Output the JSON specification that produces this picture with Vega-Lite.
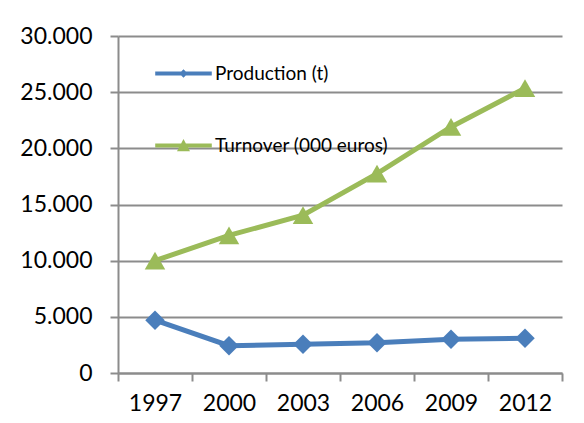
{
  "$schema": "https://vega.github.io/schema/vega-lite/v6.json",
  "width": 444,
  "height": 337,
  "autosize": {"type": "none"},
  "padding": {"left": 118, "top": 36, "right": 22, "bottom": 50},
  "background": "white",
  "config": {
    "view": {"stroke": null},
    "font": "Lato",
    "axis": {"labelFont": "Lato", "labelColor": "#000000"},
    "legend": {"labelFont": "Lato"}
  },
  "data": {
    "values": [
      {"year": "1997", "series": "Production (t)", "value": 4700},
      {"year": "2000", "series": "Production (t)", "value": 2430},
      {"year": "2003", "series": "Production (t)", "value": 2550},
      {"year": "2006", "series": "Production (t)", "value": 2700},
      {"year": "2009", "series": "Production (t)", "value": 3000},
      {"year": "2012", "series": "Production (t)", "value": 3090},
      {"year": "1997", "series": "Turnover (000 euros)", "value": 10000},
      {"year": "2000", "series": "Turnover (000 euros)", "value": 12250},
      {"year": "2003", "series": "Turnover (000 euros)", "value": 14050},
      {"year": "2006", "series": "Turnover (000 euros)", "value": 17750},
      {"year": "2009", "series": "Turnover (000 euros)", "value": 21900},
      {"year": "2012", "series": "Turnover (000 euros)", "value": 25350}
    ]
  },
  "encoding": {
    "x": {
      "field": "year",
      "type": "ordinal",
      "bandPosition": 0.5,
      "scale": {"type": "band", "paddingInner": 0, "paddingOuter": 0},
      "axis": {
        "title": null,
        "labelAngle": 0,
        "labelFontSize": 23,
        "labelPadding": 11,
        "tickBand": "extent",
        "tickSize": 8,
        "tickColor": "#8c8c8c",
        "tickWidth": 2,
        "domainColor": "#8c8c8c",
        "domainWidth": 2,
        "grid": false
      }
    },
    "y": {
      "field": "value",
      "type": "quantitative",
      "scale": {"domain": [0, 30000], "nice": false},
      "axis": {
        "title": null,
        "values": [0, 5000, 10000, 15000, 20000, 25000, 30000],
        "labelExpr": "replace(format(datum.value, ','), ',', '.')",
        "labelFontSize": 23,
        "labelPadding": 18,
        "tickSize": 8,
        "tickColor": "#8c8c8c",
        "tickWidth": 2,
        "domainColor": "#8c8c8c",
        "domainWidth": 2,
        "grid": true,
        "gridColor": "#8c8c8c",
        "gridWidth": 2
      }
    }
  },
  "layer": [
    {
      "transform": [{"filter": "datum.series === 'Production (t)'"}],
      "mark": {"type": "line", "color": "#4A7EBB", "strokeWidth": 5}
    },
    {
      "transform": [{"filter": "datum.series === 'Turnover (000 euros)'"}],
      "mark": {"type": "line", "color": "#9BBB59", "strokeWidth": 5}
    },
    {
      "transform": [{"filter": "datum.series === 'Production (t)'"}],
      "mark": {"type": "point", "shape": "diamond", "filled": true, "opacity": 1, "color": "#4A7EBB", "size": 380}
    },
    {
      "transform": [{"filter": "datum.series === 'Turnover (000 euros)'"}],
      "mark": {"type": "point", "shape": "triangle-up", "filled": true, "opacity": 1, "color": "#9BBB59", "size": 420}
    },
    {
      "mark": {"type": "point", "filled": true, "opacity": 0},
      "encoding": {
        "color": {
          "field": "series",
          "type": "nominal",
          "scale": {"domain": ["Production (t)", "Turnover (000 euros)"], "range": ["#4A7EBB", "#9BBB59"]},
          "legend": {
            "title": null,
            "orient": "none",
            "legendX": 37,
            "legendY": 9,
            "padding": 0,
            "rowPadding": 33,
            "symbolSize": 3200,
            "symbolOpacity": 1,
            "symbolStrokeWidth": 0,
            "labelFontSize": 19,
            "labelColor": "#000000",
            "labelOffset": 3,
            "labelLimit": 400
          }
        },
        "shape": {
          "field": "series",
          "type": "nominal",
          "scale": {
            "domain": ["Production (t)", "Turnover (000 euros)"],
            "range": [
              "M-1,-0.075H1V0.075H-1Z M0,-0.15L0.15,0L0,0.15L-0.15,0Z",
              "M-1,-0.075H1V0.075H-1Z M0,-0.23L0.23,0.2L-0.23,0.2Z"
            ]
          },
          "legend": {
            "title": null,
            "orient": "none",
            "legendX": 37,
            "legendY": 9,
            "padding": 0,
            "rowPadding": 33,
            "symbolSize": 3200,
            "symbolOpacity": 1,
            "symbolStrokeWidth": 0,
            "labelFontSize": 19,
            "labelColor": "#000000",
            "labelOffset": 3,
            "labelLimit": 400
          }
        }
      }
    }
  ]
}
